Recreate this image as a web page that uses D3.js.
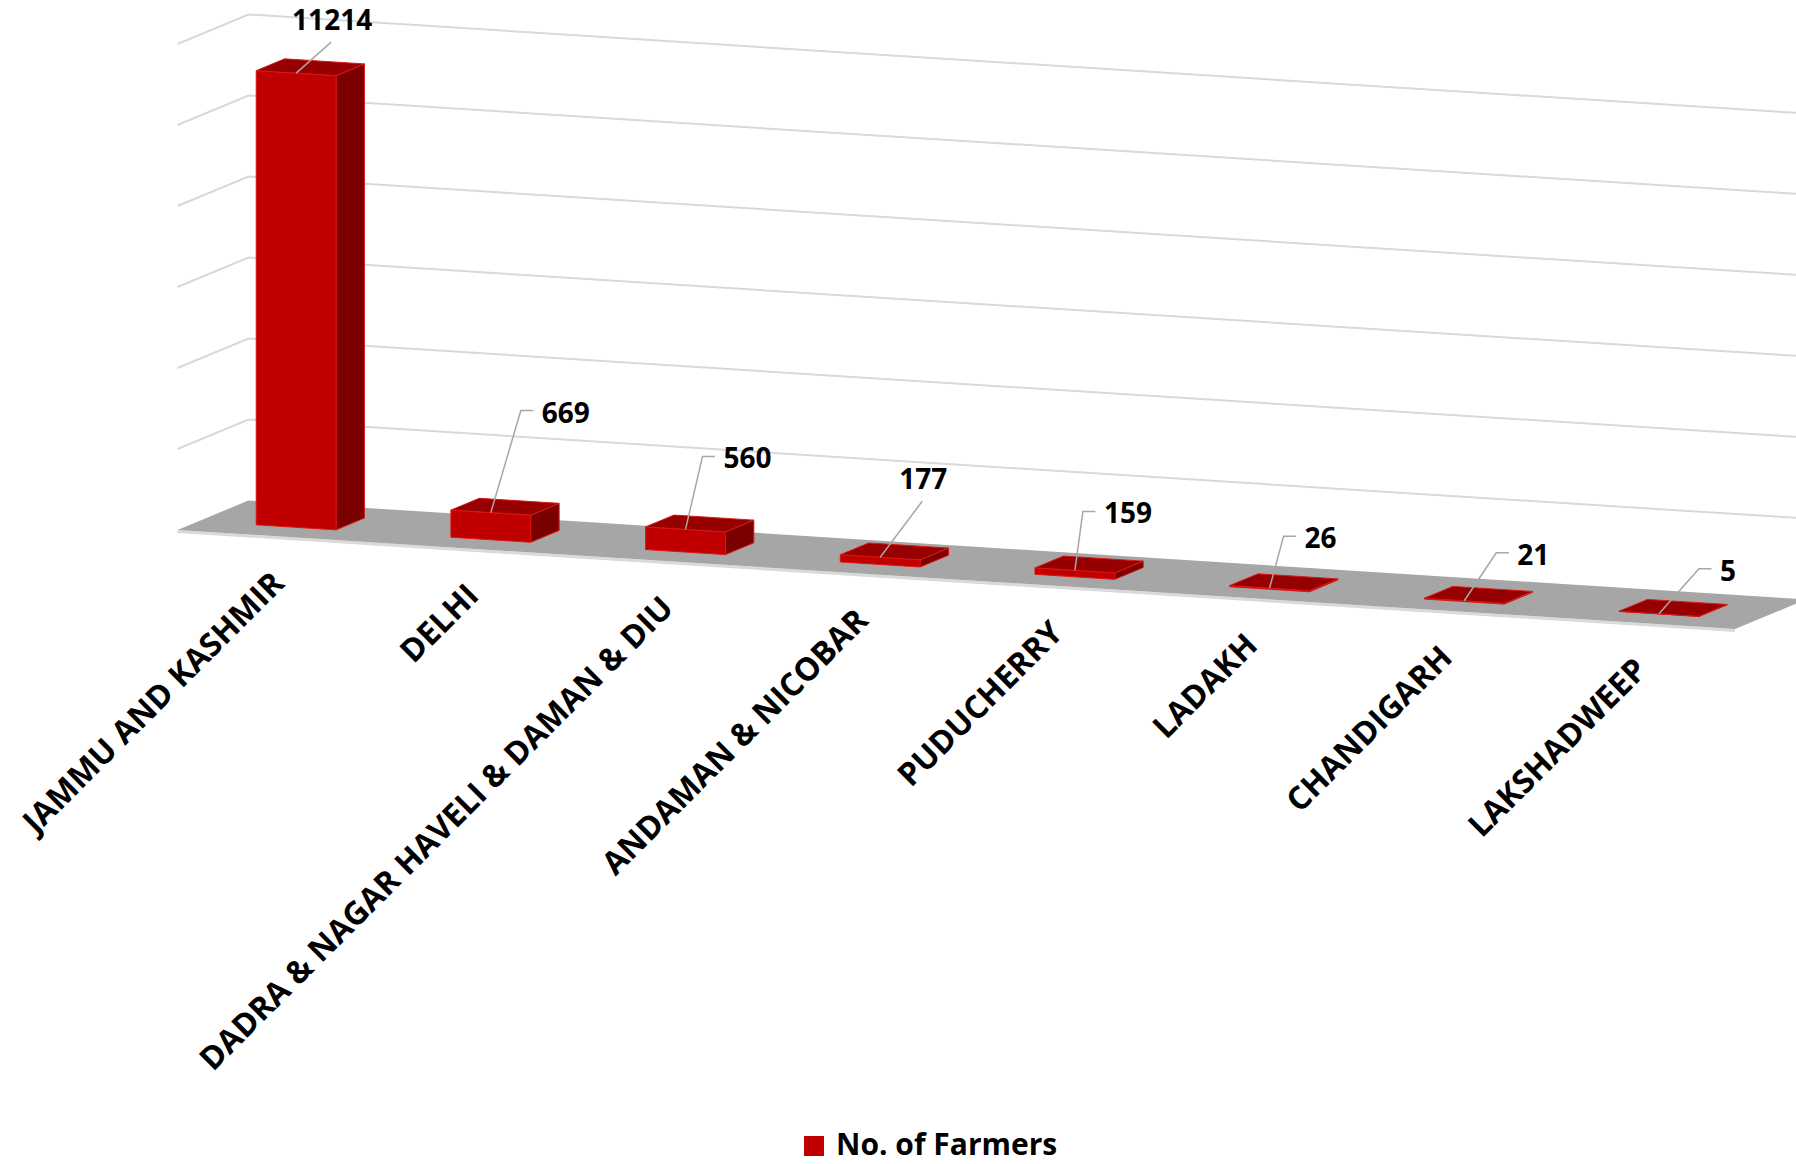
<!DOCTYPE html>
<html>
<head>
<meta charset="utf-8">
<script src="https://cdn.jsdelivr.net/npm/d3@7"></script>
<style>
  html, body { margin: 0; padding: 0; background: #ffffff; }
  svg { display: block; }
  text { font-family: "Open Sans", "Lato", "Liberation Sans", sans-serif; font-weight: 700; fill: #000; }
</style>
</head>
<body>
<script>
// ---------- data ----------
const categories = [
  "JAMMU AND KASHMIR",
  "DELHI",
  "DADRA & NAGAR HAVELI & DAMAN & DIU",
  "ANDAMAN & NICOBAR",
  "PUDUCHERRY",
  "LADAKH",
  "CHANDIGARH",
  "LAKSHADWEEP"
];
const values = [11214, 669, 560, 177, 159, 26, 21, 5];
const yTicks = [0, 2000, 4000, 6000, 8000, 10000, 12000];
const seriesName = "No. of Farmers";

// ---------- layout (label leader offsets in px, relative to bar top-front centre) ----------
const labelMode = ["straight", "elbow", "elbow", "straight", "elbow", "elbow", "elbow", "elbow"];
const labelDx   = [35, 30, 17, 42, 8, 14, 32, 40];
const labelDy   = [-31, -102, -73, -56, -59, -52, -48, -45];

// ---------- geometry ----------
const W = 1796, H = 1164;
const O = [177.5, 530];     // front-left corner of the floor
const U = [1557.5, 99];     // category axis direction (full length)
const D = [71, -29.5];      // depth direction (full depth)

const svg = d3.select("body").append("svg").attr("width", W).attr("height", H);

const xBand = d3.scaleBand().domain(categories).range([0, 1])
  .paddingInner(0.59).paddingOuter(0.295);
const yScale = d3.scaleLinear().domain([0, d3.max(yTicks)]).range([0, 486]);

function P(c, v, d) {
  return [O[0] + c * U[0] + d * D[0], O[1] + c * U[1] + d * D[1] - yScale(v)];
}
const poly = pts => "M" + pts.map(p => p[0].toFixed(2) + "," + p[1].toFixed(2)).join("L") + "Z";

// ---------- gridlines (left wall + back wall) ----------
const grid = svg.append("g").attr("fill", "none").attr("stroke", "#d9d9d9").attr("stroke-width", 2);
yTicks.filter(t => t > 0).forEach(t => {
  const a = P(0, t, 0), b = P(0, t, 1), c = P(1, t, 1);
  grid.append("path").attr("d", `M${a[0]},${a[1]}L${b[0]},${b[1]}L${c[0]},${c[1]}`);
});

// ---------- floor ----------
const f0 = P(0, 0, 0), f1 = P(1, 0, 0), f2 = P(1, 0, 1), f3 = P(0, 0, 1);
svg.append("path")
  .attr("d", poly([f0, f1, [f1[0], f1[1] + 3], [f0[0], f0[1] + 3]]))
  .attr("fill", "#dadada");
svg.append("path").attr("d", poly([f0, f1, f2, f3])).attr("fill", "#a6a6a6");

// ---------- bars ----------
const d0 = 0.3, d1 = 0.7;
const bars = svg.append("g").selectAll("g").data(categories).join("g");
bars.each(function (cat, i) {
  const g = d3.select(this);
  const v = values[i];
  const c0 = xBand(cat), c1 = c0 + xBand.bandwidth();
  const front = [P(c0, 0, d0), P(c1, 0, d0), P(c1, v, d0), P(c0, v, d0)];
  const side  = [P(c1, 0, d0), P(c1, 0, d1), P(c1, v, d1), P(c1, v, d0)];
  const top   = [P(c0, v, d0), P(c1, v, d0), P(c1, v, d1), P(c0, v, d1)];
  g.append("path").attr("d", poly(side)).attr("fill", "#7a0000")
    .attr("stroke", "#d81818").attr("stroke-width", 1).attr("stroke-linejoin", "round");
  g.append("path").attr("d", poly(front)).attr("fill", "#c00000")
    .attr("stroke", "#e01010").attr("stroke-width", 1).attr("stroke-linejoin", "round");
  g.append("path").attr("d", poly(top)).attr("fill", "#960000")
    .attr("stroke", "#d81818").attr("stroke-width", 1).attr("stroke-linejoin", "round");
});

// ---------- value labels with leader lines ----------
const lab = svg.append("g");
categories.forEach((cat, i) => {
  const cMid = xBand(cat) + xBand.bandwidth() / 2;
  const a = P(cMid, values[i], d0);
  const e = [a[0] + labelDx[i], a[1] + labelDy[i]];
  if (labelMode[i] === "straight") {
    lab.append("path").attr("d", `M${a[0]},${a[1]}L${e[0]},${e[1]}`)
      .attr("stroke", "#a6a6a6").attr("stroke-width", 1.5).attr("fill", "none");
    lab.append("text").attr("x", e[0] + 1).attr("y", e[1] - 12)
      .attr("text-anchor", "middle").attr("font-size", 28).text(values[i]);
  } else {
    lab.append("path").attr("d", `M${a[0]},${a[1]}L${e[0]},${e[1]}L${e[0] + 12.5},${e[1]}`)
      .attr("stroke", "#a6a6a6").attr("stroke-width", 1.5).attr("fill", "none");
    lab.append("text").attr("x", e[0] + 21).attr("y", e[1] + 12)
      .attr("text-anchor", "start").attr("font-size", 28).text(values[i]);
  }
});

// ---------- category labels ----------
const catG = svg.append("g");
categories.forEach(cat => {
  const p = P(xBand(cat) + xBand.bandwidth() / 2, 0, 0);
  const ax = p[0] + 11, ay = p[1] + 49;
  catG.append("text")
    .attr("transform", `translate(${ax},${ay}) rotate(-45)`)
    .attr("text-anchor", "end")
    .attr("font-size", 32)
    .text(cat);
});

// ---------- legend ----------
const leg = svg.append("g");
leg.append("rect").attr("x", 804).attr("y", 1136).attr("width", 20).attr("height", 20).attr("fill", "#c00000");
leg.append("text").attr("x", 836).attr("y", 1155).attr("font-size", 30).text(seriesName);
</script>
</body>
</html>
